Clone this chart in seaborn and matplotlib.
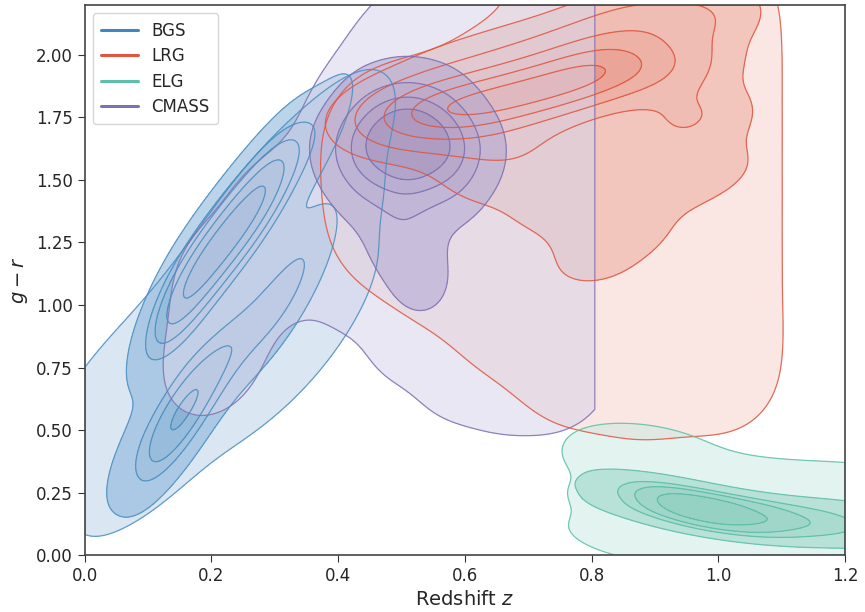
import numpy as np
import pandas as pd
import matplotlib
matplotlib.use("Agg")
import matplotlib.pyplot as plt
from matplotlib.colors import LinearSegmentedColormap
from matplotlib.lines import Line2D
import seaborn as sns

# ---- data: representative (z, g-r, weight) anchors ----
# BGS
bgs_halo_z  = [0.04, 0.10, 0.15, 0.20, 0.25, 0.30, 0.35, 0.37, 0.37, 0.30, 0.35,
               0.20, 0.08, 0.12, 0.20, 0.27, 0.38, 0.37, 0.02, 0.15, 0.27, 0.34, 0.39]
bgs_halo_gr = [0.45, 0.60, 0.75, 0.90, 1.05, 1.20, 1.35, 1.50, 1.65, 1.45, 1.10,
               0.65, 0.35, 0.90, 1.15, 1.40, 1.25, 0.95, 0.65, 0.45, 0.70, 0.85, 1.55]
bgs_halo_w  = [1] * 23
bgs_core_z  = [0.13, 0.16, 0.19, 0.22, 0.25, 0.28, 0.31, 0.12, 0.15, 0.18,
               0.22, 0.26, 0.30, 0.33, 0.36, 0.36, 0.39, 0.07]
bgs_core_gr = [0.97, 1.06, 1.16, 1.26, 1.35, 1.44, 1.52, 0.47, 0.56, 0.64,
               0.80, 0.90, 1.00, 1.10, 1.20, 1.65, 1.75, 0.40]
bgs_core_w  = [3, 4, 4, 4, 4, 4, 3, 3, 3, 3, 1.8, 1.8, 1.8, 1.5, 1.0, 1, 1, 1.2]

# LRG
lrg_halo_z  = [0.48, 0.48, 0.48, 0.57, 0.57, 0.57, 0.57, 0.67, 0.67, 0.67, 0.67, 0.67,
               0.77, 0.77, 0.77, 0.77, 0.77, 0.77, 0.77, 0.88, 0.88, 0.88, 0.88, 0.88,
               0.88, 0.88, 1.00, 1.00, 1.00, 1.00, 1.00, 1.00, 1.00]
lrg_halo_gr = [1.30, 1.52, 1.70, 1.15, 1.38, 1.58, 1.75, 0.95, 1.20, 1.45, 1.68, 1.90,
               0.75, 1.00, 1.25, 1.50, 1.75, 2.00, 2.25, 0.70, 0.95, 1.20, 1.45, 1.70,
               1.95, 2.20, 0.72, 0.95, 1.20, 1.45, 1.70, 1.95, 2.20]
lrg_halo_w  = [1] * 33
lrg_core_z  = [0.50, 0.55, 0.60, 0.65, 0.70, 0.75, 0.80, 0.84,
               0.92, 0.95, 0.90, 0.84, 0.75, 0.65, 0.87, 0.97, 0.78, 0.68, 0.58, 0.80,
               0.97, 0.62, 0.72]
lrg_core_gr = [1.76, 1.77, 1.79, 1.82, 1.85, 1.88, 1.92, 1.96,
               1.95, 1.75, 1.50, 1.30, 1.40, 1.50, 2.12, 2.15, 2.05, 2.00, 1.95, 1.15,
               1.55, 1.63, 1.62]
lrg_core_w  = [2.5, 3.5, 4, 4, 4, 4, 4, 3.5,
               2.5, 1.8, 1.2, 1.0, 0.8, 0.6, 2, 1.5, 1.2, 0.8, 0.5, 0.5,
               0.8, 1.0, 1.0]

# ELG
elg_halo_z  = [0.87, 0.87, 0.87, 0.95, 0.95, 0.95, 1.05, 1.05, 1.05, 1.15, 1.15, 1.15,
               1.25, 1.25, 1.25, 0.88]
elg_halo_gr = [0.08, 0.22, 0.36, 0.05, 0.18, 0.32, 0.05, 0.17, 0.29, 0.05, 0.16, 0.27,
               0.05, 0.16, 0.27, 0.44]
elg_halo_w  = [1] * 16
elg_core_z  = [0.86, 0.86, 0.86, 0.93, 0.93, 0.93, 1.00, 1.00, 1.00,
               1.08, 1.08, 1.08, 1.17, 1.17, 1.17, 1.26, 1.26, 1.26]
elg_core_gr = [0.32, 0.26, 0.20, 0.27, 0.21, 0.15, 0.22, 0.16, 0.10,
               0.20, 0.14, 0.08, 0.19, 0.13, 0.07, 0.18, 0.12, 0.06]
elg_core_w  = [1.5, 2, 1.5, 2.5, 3, 2.5, 2.5, 3, 2.5,
               2, 2.5, 2, 1.6, 2, 1.6, 1.5, 1.8, 1.5]

# CMASS
cmass_halo_z  = [0.20, 0.22, 0.22, 0.30, 0.30, 0.37, 0.39, 0.43, 0.44, 0.44, 0.45, 0.49,
                 0.52, 0.52, 0.52, 0.52, 0.53, 0.60, 0.60, 0.60, 0.60, 0.60, 0.60,
                 0.68, 0.68, 0.68, 0.68, 0.68, 0.68, 0.76, 0.76, 0.76, 0.76, 0.76, 0.76]
cmass_halo_gr = [0.75, 0.95, 1.15, 1.15, 1.40, 1.25, 1.55, 1.80, 1.10, 1.40, 1.70, 2.00,
                 0.90, 1.20, 1.50, 1.80, 2.10, 0.75, 1.05, 1.35, 1.65, 1.95, 2.25,
                 0.70, 1.00, 1.30, 1.60, 1.90, 2.20, 0.70, 1.00, 1.30, 1.60, 1.90, 2.20]
cmass_halo_w  = [1] * 35
cmass_core_z  = [0.51, 0.45, 0.57, 0.51, 0.51, 0.46, 0.56, 0.45, 0.57, 0.50, 0.53, 0.41, 0.61]
cmass_core_gr = [1.64, 1.64, 1.64, 1.50, 1.78, 1.76, 1.76, 1.50, 1.50, 1.28, 1.10, 1.62, 1.62]
cmass_core_w  = [4, 2, 2, 1.5, 1.5, 1.2, 1.2, 1.2, 1.2, 1, 0.6, 0.8, 0.8]

labels = ["BGS", "LRG", "ELG", "CMASS"]
line_colors = ["#3d88c2", "#e0563f", "#5dbfa9", "#7f70b0"]


def frame(z, gr, w):
    return pd.DataFrame({"z": z, "gr": gr, "w": w})


full = ((0, 1.2), (0, 2.2))
# (data, levels, bandwidth, fill colours, edge colour, clip, halo)
layers = [
    (frame(bgs_halo_z, bgs_halo_gr, bgs_halo_w), [0.04, 1.0], 0.5,
     ["#bcd4ea", "#bcd4ea"], "#4a8fc2", full, True),
    (frame(bgs_core_z, bgs_core_gr, bgs_core_w), [0.06, 0.3, 0.5, 0.7, 0.86, 1.0], 0.5,
     ["#8fb8dc", "#2a72b0"], "#4a8fc2", full, False),
    (frame(lrg_halo_z, lrg_halo_gr, lrg_halo_w), [0.03, 1.0], 0.35,
     ["#f6d3cd", "#f6d3cd"], "#e0563f", full, True),
    (frame(lrg_core_z, lrg_core_gr, lrg_core_w), [0.03, 0.22, 0.42, 0.62, 0.84, 1.0], 0.45,
     ["#eeb0a5", "#d9553f"], "#e0563f", full, False),
    (frame(elg_halo_z, elg_halo_gr, elg_halo_w), [0.04, 1.0], 0.5,
     ["#cdebe4", "#cdebe4"], "#5dbfa9", full, True),
    (frame(elg_core_z, elg_core_gr, elg_core_w), [0.1, 0.35, 0.55, 0.78, 1.0], 0.6,
     ["#a9dccf", "#4db39b"], "#5dbfa9", full, False),
    (frame(cmass_halo_z, cmass_halo_gr, cmass_halo_w), [0.03, 1.0], 0.3,
     ["#d8d4ea", "#d8d4ea"], "#7f70b0", ((0, 0.805), (0, 2.2)), True),
    (frame(cmass_core_z, cmass_core_gr, cmass_core_w), [0.04, 0.25, 0.45, 0.65, 1.0], 0.7,
     ["#b5acd5", "#7a6cb0"], "#7f70b0", full, False),
]

sns.set_style("ticks")
plt.rcParams["font.family"] = ["DejaVu Sans"]

fig = plt.figure(figsize=(8.65, 6.12), dpi=100)
ax = fig.add_axes([0.098, 0.093, 0.879, 0.899])

# pass 1: filled density bands
for df, lev, bw, fcols, ecol, clip, halo in layers:
    cmap = LinearSegmentedColormap.from_list("c", fcols)
    sns.kdeplot(data=df, x="z", y="gr", weights="w", bw_method=bw, clip=clip, ax=ax,
                levels=lev, fill=True, cmap=cmap, alpha=0.55)

# pass 2: contour lines on top
for df, lev, bw, fcols, ecol, clip, halo in layers:
    common = dict(data=df, x="z", y="gr", weights="w", bw_method=bw, clip=clip, ax=ax)
    if halo:
        # outline of the outer region (also follows the sample's cut edge)
        cmap = LinearSegmentedColormap.from_list("c", fcols)
        sns.kdeplot(**common, levels=lev, fill=True, cmap=cmap, alpha=0.85)
        cs = ax.collections[-1]
        cs.set_facecolor("none")
        cs.set_edgecolor(ecol)
        cs.set_linewidth(0.9)
        cs.set_antialiased(True)
    else:
        sns.kdeplot(**common, levels=lev[:-1], fill=False, color=ecol,
                    linewidths=0.9, alpha=0.85)

ax.set_xlim(0, 1.2)
ax.set_ylim(0, 2.2)
ax.set_xticks([0.0, 0.2, 0.4, 0.6, 0.8, 1.0, 1.2])
ax.set_yticks([0.0, 0.25, 0.5, 0.75, 1.0, 1.25, 1.5, 1.75, 2.0])
ax.yaxis.set_major_formatter(matplotlib.ticker.FormatStrFormatter("%.2f"))
ax.xaxis.set_major_formatter(matplotlib.ticker.FormatStrFormatter("%.1f"))
ax.tick_params(labelsize=12, length=5, color="#333333")
for s in ax.spines.values():
    s.set_color("#444444")
    s.set_linewidth(1.2)
    s.set_zorder(5)
ax.set_xlabel("Redshift $z$", fontsize=14)
ax.set_ylabel("$g - r$", fontsize=14)

handles = [Line2D([0], [0], color=c, lw=2.2) for c in line_colors]
ax.legend(handles, labels, loc="upper left", fontsize=12, frameon=True,
          handlelength=2.2, borderpad=0.5, labelspacing=0.45)

fig.savefig("out.png", dpi=100)
